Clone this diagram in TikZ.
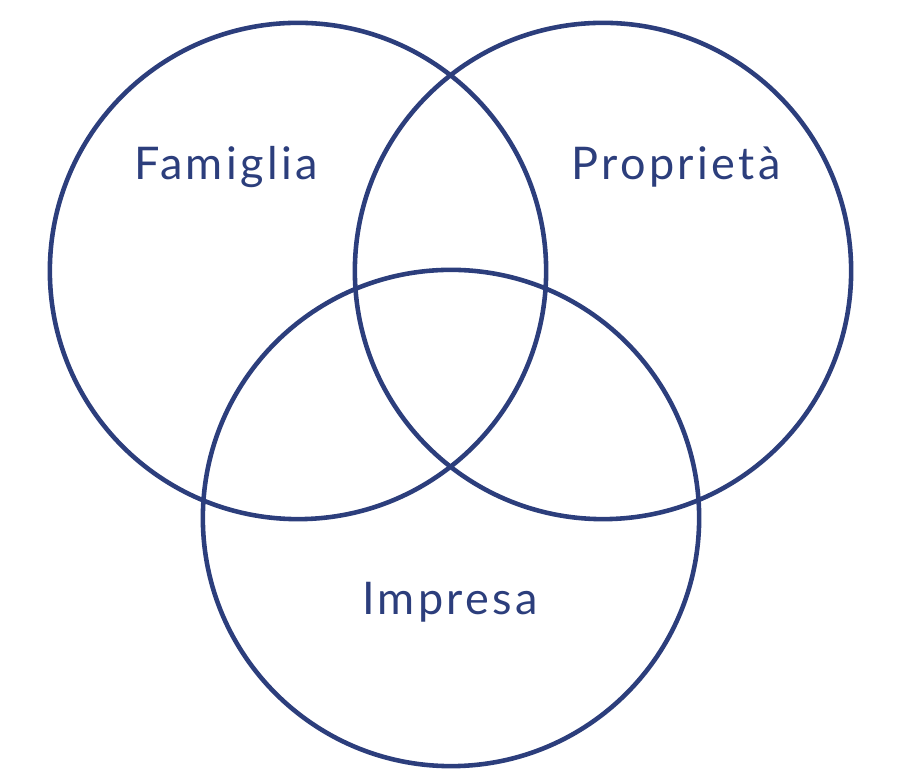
\documentclass[tikz,border=0pt]{standalone}
\usepackage{fontspec}
\setmainfont{Lato}[LetterSpace=7.5]
\usetikzlibrary{positioning}
\definecolor{Navy}{HTML}{2C3E7C}
\tikzset{
  ring/.style={draw=Navy,line width=1.3pt},
  lbl/.style={text=Navy,font=\fontsize{12.8}{15}\selectfont,anchor=base,inner sep=0pt},
}
\begin{document}
\begin{tikzpicture}[x=0.01cm,y=-0.01cm,line join=round]
\useasboundingbox (0,0) rectangle (900,780);
\coordinate (fam) at (298,271); \coordinate (pro) at (603,271);
\coordinate (imp) at (451,518);
\draw[ring] (fam) circle[radius=2.48cm];
\draw[ring] (pro) circle[radius=2.48cm];
\draw[ring] (imp) circle[radius=2.48cm];
\node[lbl] (famlbl) at (226,180) {Famiglia};
\node[lbl] (prolbl) at (676,180) {Proprietà};
\node[lbl] (implbl) at (450,615) {Impresa};
\end{tikzpicture}
\end{document}
